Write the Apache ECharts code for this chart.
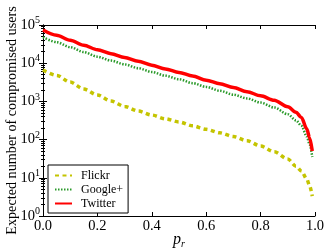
<!DOCTYPE html>
<html>
<head>
<meta charset="utf-8">
<script src="https://cdn.jsdelivr.net/npm/echarts@6/dist/echarts.min.js"></script>
<style>html,body{margin:0;padding:0;background:#fff}#c{width:332px;height:249px}</style>
</head>
<body>
<div id="c"></div>
<script>
var pr = [0, 0.05, 0.1, 0.15, 0.2, 0.25, 0.3, 0.35, 0.4, 0.45, 0.5, 0.55, 0.6, 0.65, 0.7, 0.75, 0.8, 0.85, 0.9, 0.93, 0.95, 0.97, 0.98, 0.99];
var flickr = [6600, 4800, 3200, 2100, 1480, 1020, 740, 560, 440, 350, 290, 230, 186, 150, 120, 93, 68, 48, 31, 20, 15, 9.3, 6.2, 3.3];
var googleplus = [48000, 35500, 26300, 19500, 14800, 11700, 9300, 7400, 5900, 4700, 3800, 3000, 2400, 1900, 1500, 1200, 930, 690, 460, 320, 230, 120, 76, 35];
var twitter = [74000, 54000, 40000, 29500, 22400, 17800, 14100, 11200, 8900, 7100, 5750, 4600, 3600, 2900, 2300, 1800, 1400, 1070, 720, 520, 380, 190, 112, 50];
var xTicks = ['0.0', '0.2', '0.4', '0.6', '0.8', '1.0'];
var seriesNames = ['Flickr', 'Google+', 'Twitter'];

function pairs(arr) { return pr.map(function (p, i) { return [p, arr[i]]; }); }
var FONT = 'Liberation Serif';

var chart = echarts.init(document.getElementById('c'), null, { renderer: 'canvas' });
var axisLine = { show: true, lineStyle: { color: '#000', width: 1 } };
var axisTick = { show: true, inside: true, length: 4, lineStyle: { color: '#000' } };
var splitLine = { show: false };
chart.setOption({
  animation: false,
  backgroundColor: '#fff',
  textStyle: { fontFamily: FONT },
  grid: { left: 43, right: 17, top: 25, bottom: 33, outerBoundsMode: 'none', containLabel: false },
  legend: {
    left: 48, top: 165, orient: 'vertical',
    data: seriesNames,
    itemWidth: 17, itemHeight: 10, itemGap: 1,
    padding: [4, 5, 3, 6],
    borderColor: '#000', borderWidth: 1, backgroundColor: '#fff',
    itemStyle: { opacity: 0 },
    textStyle: { fontFamily: FONT, fontSize: 12, color: '#000', padding: [0, 0, 0, 4], lineHeight: 13 }
  },
  xAxis: [{
    type: 'value', min: 0, max: 1, interval: 0.2,
    name: '{i|p}{s|r}', nameLocation: 'middle', nameGap: 15, nameMoveOverlap: false,
    nameTextStyle: { rich: {
      i: { fontFamily: FONT, fontStyle: 'italic', fontSize: 16, color: '#000' },
      s: { fontFamily: FONT, fontStyle: 'italic', fontSize: 10, color: '#000', padding: [8, 0, 0, 0] }
    } },
    axisLabel: { fontFamily: FONT, fontSize: 14.5, color: '#000', margin: 3,
      formatter: function (v) { return xTicks[Math.round(v / 0.2)]; } },
    axisLine: axisLine, axisTick: axisTick, splitLine: splitLine
  }, {
    type: 'value', min: 0, max: 1, interval: 0.2, position: 'top',
    axisLabel: { show: false },
    axisLine: axisLine, axisTick: axisTick, splitLine: splitLine
  }],
  yAxis: [{
    type: 'log', logBase: 10, min: 1, max: 100000,
    name: 'Expected number of compromised users', nameLocation: 'middle', nameGap: 24, nameMoveOverlap: false,
    nameTextStyle: { fontFamily: FONT, fontSize: 14.2, color: '#000' },
    axisLabel: { margin: 3, color: '#000',
      formatter: function (v) { var e = Math.round(Math.log10(v)); return '{b|10}{s|' + e + '}'; },
      rich: {
        b: { fontFamily: FONT, fontSize: 14.5, color: '#000' },
        s: { fontFamily: FONT, fontSize: 10, color: '#000', padding: [0, 0, 9, 0] }
      } },
    minorTick: { show: true, splitNumber: 9, length: 2, lineStyle: { color: '#000' } },
    axisLine: axisLine, axisTick: axisTick, splitLine: splitLine
  }, {
    type: 'log', logBase: 10, min: 1, max: 100000, position: 'right',
    axisLabel: { show: false },
    minorTick: { show: true, splitNumber: 9, length: 2, lineStyle: { color: '#000' } },
    axisLine: axisLine, axisTick: axisTick, splitLine: splitLine
  }],
  series: [
    { name: seriesNames[0], type: 'line', showSymbol: false, symbol: 'none', smooth: 0.3, smoothMonotone: 'x',
      data: pairs(flickr), color: '#c4c400',
      lineStyle: { color: '#c4c400', width: 3.5, type: [4, 3.5], cap: 'butt' }, z: 2 },
    { name: seriesNames[1], type: 'line', showSymbol: false, symbol: 'none', smooth: 0.3, smoothMonotone: 'x',
      data: pairs(googleplus), color: '#2a9a2a',
      lineStyle: { color: '#2a9a2a', width: 2.5, type: [1.5, 1.5], cap: 'butt' }, z: 3 },
    { name: seriesNames[2], type: 'line', showSymbol: false, symbol: 'none', smooth: 0.3, smoothMonotone: 'x',
      data: pairs(twitter), color: '#ff0000',
      lineStyle: { color: '#ff0000', width: 3.5 }, z: 4 }
  ]
});
</script>
</body>
</html>
